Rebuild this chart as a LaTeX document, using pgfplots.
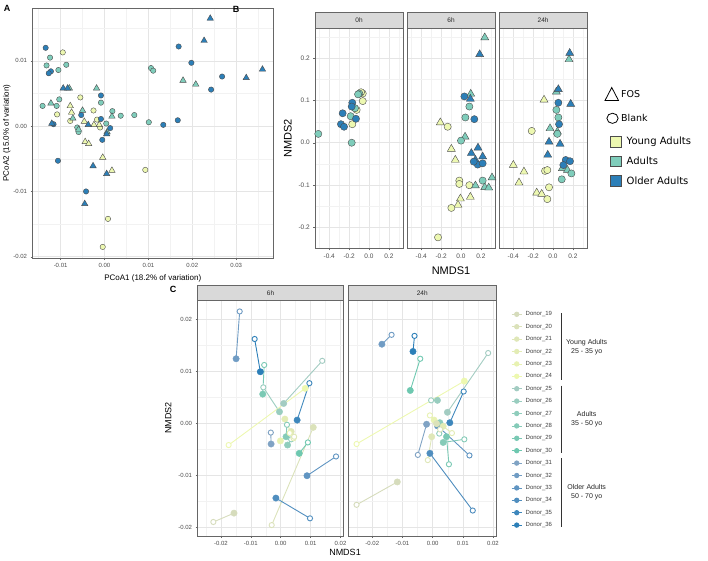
\documentclass[border=0pt]{standalone}
\usepackage{fontspec}
\setmainfont{Liberation Sans}
\newfontfamily\dejavu{DejaVu Sans}
\usepackage{pgfplots}
\pgfplotsset{compat=1.18}
\definecolor{young}{RGB}{237,248,177}
\definecolor{adult}{RGB}{127,205,187}
\definecolor{older}{RGB}{44,127,184}
\definecolor{d19}{RGB}{214,220,188}
\definecolor{d20}{RGB}{219,226,186}
\definecolor{d21}{RGB}{223,231,184}
\definecolor{d22}{RGB}{227,236,181}
\definecolor{d23}{RGB}{232,242,178}
\definecolor{d24}{RGB}{237,248,176}
\definecolor{d25}{RGB}{163,204,194}
\definecolor{d26}{RGB}{153,205,191}
\definecolor{d27}{RGB}{143,205,188}
\definecolor{d28}{RGB}{133,203,184}
\definecolor{d29}{RGB}{122,201,180}
\definecolor{d30}{RGB}{110,200,176}
\definecolor{d31}{RGB}{128,163,196}
\definecolor{d32}{RGB}{112,156,196}
\definecolor{d33}{RGB}{96,149,194}
\definecolor{d34}{RGB}{80,142,191}
\definecolor{d35}{RGB}{62,135,188}
\definecolor{d36}{RGB}{44,127,184}
\pgfplotsset{
  colormap={donors}{rgb255=(214,220,188) rgb255=(219,226,186) rgb255=(223,231,184) rgb255=(227,236,181) rgb255=(232,242,178) rgb255=(237,248,176) rgb255=(163,204,194) rgb255=(153,205,191) rgb255=(143,205,188) rgb255=(133,203,184) rgb255=(122,201,180) rgb255=(110,200,176) rgb255=(128,163,196) rgb255=(112,156,196) rgb255=(96,149,194) rgb255=(80,142,191) rgb255=(62,135,188) rgb255=(44,127,184)},
  gg/.style={
    scale only axis, anchor=north west, scaled ticks=false,
    axis line style={black!60, line width=0.5pt},
    tick pos=left, tick align=outside,
    major tick length=2pt, minor tick length=0pt,
    tick style={black!60, line width=0.4pt},
    xmajorgrids, ymajorgrids, xminorgrids, yminorgrids,
    major grid style={black!10, line width=0.5pt},
    minor grid style={black!5, line width=0.3pt},
    ticklabel style={font=\fontsize{6}{7}\selectfont, text=black!70},
    label style={font=\fontsize{8}{9}\selectfont, text=black},
  },
  circY/.style={only marks, mark=*, mark size=2.7pt, fill=young, draw=black!70, line width=0.4pt},
  circA/.style={only marks, mark=*, mark size=2.7pt, fill=adult, draw=black!70, line width=0.4pt},
  circO/.style={only marks, mark=*, mark size=2.7pt, fill=older, draw=black!70, line width=0.4pt},
  triY/.style={only marks, mark=triangle*, mark size=3.7pt, fill=young, draw=black!70, line width=0.4pt},
  triA/.style={only marks, mark=triangle*, mark size=3.7pt, fill=adult, draw=black!70, line width=0.4pt},
  triO/.style={only marks, mark=triangle*, mark size=3.7pt, fill=older, draw=black!70, line width=0.4pt},
  bsize/.style={mark size=3.6pt},
  btri/.style={mark size=4.6pt},
  bfacet/.style={gg, width=87.5pt, height=220pt,
    xmin=-0.54, xmax=0.34, ymin=-0.251, ymax=0.272,
    xtick={-0.4,-0.2,0,0.2}, xticklabels={-0.4,-0.2,0.0,0.2},
    ytick={-0.2,-0.1,0,0.1,0.2}, yticklabels={-0.2,-0.1,0.0,0.1,0.2},
    minor xtick={-0.5,-0.3,-0.1,0.1,0.3}, minor ytick={-0.25,-0.15,-0.05,0.05,0.15,0.25},
    ticklabel style={font=\fontsize{6.5}{7}\selectfont},
    label style={font=\fontsize{11}{12}\selectfont}},
  cfacet/.style={gg, width=147pt, height=236pt,
    xmin=-0.0278, xmax=0.0210, ymin=-0.0217, ymax=0.0237,
    xtick={-0.02,-0.01,0,0.01,0.02}, xticklabels={-0.02,-0.01,0.00,0.01,0.02},
    ytick={-0.02,-0.01,0,0.01,0.02}, yticklabels={-0.02,-0.01,0.00,0.01,0.02},
    minor xtick={-0.025,-0.015,-0.005,0.005,0.015}, minor ytick={-0.015,-0.005,0.005,0.015},
    colormap name=donors, point meta min=19, point meta max=36,
    label style={font=\fontsize{9}{10}\selectfont}},
  filledpt/.style={scatter, only marks, mark=*, mark size=3.2pt, point meta=explicit,
    scatter/use mapped color={draw=mapped color, fill=mapped color}},
  openpt/.style={scatter, only marks, mark=*, mark size=2.6pt, point meta=explicit,
    scatter/use mapped color={draw=mapped color, fill=white}, mark options={line width=0.9pt}},
  seg/.style={line width=0.9pt, no marks},
}
\begin{document}
\begin{tikzpicture}
\useasboundingbox (0pt,0pt) rectangle (708pt,-560pt);

% ================= Panel A =================
\node[font=\bfseries\fontsize{9}{10}\selectfont, anchor=center] at (7pt,-8pt) {A};
\begin{axis}[gg, at={(32.5pt,-8pt)}, width=240.5pt, height=250pt,
  xmin=-0.0164, xmax=0.0384, ymin=-0.0202, ymax=0.0181,
  xtick={-0.01,0,0.01,0.02,0.03}, xticklabels={-0.01,0.00,0.01,0.02,0.03},
  ytick={-0.02,-0.01,0,0.01}, yticklabels={-0.02,-0.01,0.00,0.01},
  minor xtick={-0.015,-0.005,0.005,0.015,0.025,0.035}, minor ytick={-0.015,-0.005,0.005,0.015},
  xlabel={PCoA1 (18.2\% of variation)}, ylabel={PCoA2 (15.0\% of variation)},
  ylabel style={yshift=-4pt}]
\addplot[circY] coordinates {(-0.0095,0.0113) (-0.0108,0.0018) (-0.0055,0.0044) (-0.0025,0.0024) (-0.0078,0.0008) (-0.0017,0.0010) (-0.0010,-0.0002) (0.0093,-0.0067) (0.0008,-0.0142) (-0.0004,-0.0185)};
\addplot[triY] coordinates {(-0.0078,0.0031) (-0.0075,0.0021) (-0.0044,-0.0024) (-0.0036,-0.0027) (-0.0004,-0.0048) (0.0017,-0.0068) (-0.0012,0.0002) (-0.0046,0.0007) (-0.0024,0.0002)};
\addplot[circA] coordinates {(-0.0124,0.0105) (-0.0132,0.0093) (-0.0105,0.0086) (-0.0087,0.0094) (-0.0141,0.0031) (-0.0103,0.0041) (-0.0109,0.0031) (-0.0062,-0.0002) (-0.0059,-0.0009) (-0.0008,0.0036) (0.0018,0.0023) (0.0037,0.0016) (0.0068,0.0017) (0.0101,0.0006) (0.0106,0.0089) (0.0111,0.0085) (0.0004,0.0004)};
\addplot[triA] coordinates {(-0.0122,0.0035) (-0.0080,0.0058) (-0.0072,0.0012) (-0.0050,0.0024) (-0.0059,-0.0005) (-0.0018,0.0058) (0.0017,0.0015) (0.0006,-0.0009) (0.0179,0.0070) (0.0208,0.0064)};
\addplot[circO] coordinates {(-0.0134,0.0120) (-0.0122,0.0084) (-0.0127,0.0081) (-0.0116,0.0003) (-0.0106,-0.0053) (-0.0053,0.0017) (-0.0008,0.0047) (-0.0008,0.0011) (-0.0005,-0.0021) (0.0013,-0.0003) (-0.0042,-0.0100) (0.0134,0.0002) (0.0167,0.0009) (0.0169,0.0122) (0.0198,0.0097) (0.0243,0.0056) (0.0268,0.0076)};
\addplot[triO] coordinates {(-0.0094,0.0058) (-0.0084,0.0058) (-0.0120,0.0004) (-0.0037,0.0002) (0.0005,-0.0012) (-0.0026,-0.0061) (0.0005,-0.0073) (-0.0045,-0.0119) (0.0227,0.0131) (0.0241,0.0165) (0.0323,0.0074) (0.0360,0.0087)};
\end{axis}

% ================= Panel B =================
\node[font=\bfseries\fontsize{9}{10}\selectfont, anchor=center] at (236pt,-9pt) {B};
\begin{axis}[bfacet, at={(315.3pt,-28.3pt)}, ylabel={NMDS2}]
\addplot[circY, bsize] coordinates {(-0.063,0.117) (-0.063,0.099) (-0.168,0.044) (-0.124,0.078) (-0.080,0.120)};
\addplot[circA, bsize] coordinates {(-0.510,0.021) (-0.174,0.000) (-0.184,0.063) (-0.141,0.082) (-0.097,0.117) (-0.110,0.115)};
\addplot[circO, bsize] coordinates {(-0.265,0.070) (-0.282,0.044) (-0.251,0.038) (-0.168,0.095) (-0.131,0.057) (-0.174,0.086)};
\end{axis}
\begin{axis}[bfacet, at={(407.3pt,-28.3pt)}, yticklabels={}, ytick style={draw=none}, xlabel={NMDS1}, xlabel style={yshift=-2pt}]
\addplot[triY, btri] coordinates {(-0.208,0.048) (-0.097,-0.015) (-0.057,-0.041) (0.094,-0.129) (-0.006,-0.133) (-0.030,-0.148)};
\addplot[circY, bsize] coordinates {(-0.134,0.038) (-0.017,-0.090) (-0.017,-0.098) (0.084,-0.101) (-0.097,-0.155) (-0.231,-0.225)};
\addplot[triA, btri] coordinates {(0.239,0.250) (0.098,0.116) (0.041,0.014) (0.145,-0.102) (0.239,-0.106) (0.279,-0.107) (0.312,-0.083)};
\addplot[circA, bsize] coordinates {(0.084,0.086) (0.044,0.060) (0.000,0.005) (0.218,-0.090)};
\addplot[triO, btri] coordinates {(0.188,0.210) (0.094,0.104) (0.171,-0.012) (0.104,-0.025) (0.145,-0.041) (0.218,-0.033)};
\addplot[circO, bsize] coordinates {(0.034,0.110) (0.134,0.056) (0.168,-0.052) (0.218,-0.049) (0.128,-0.045)};
\end{axis}
\begin{axis}[bfacet, at={(499.3pt,-28.3pt)}, yticklabels={}, ytick style={draw=none}]
\addplot[triY, btri] coordinates {(-0.090,0.102) (-0.399,-0.053) (-0.292,-0.069) (-0.342,-0.095) (-0.164,-0.119) (-0.114,-0.122)};
\addplot[circY, bsize] coordinates {(-0.214,0.028) (-0.080,-0.067) (-0.057,-0.065) (-0.040,-0.106) (-0.057,-0.134)};
\addplot[triA, btri] coordinates {(0.161,0.198) (0.034,0.121) (-0.030,0.034) (0.044,0.026) (0.094,-0.061) (0.145,-0.065)};
\addplot[circA, bsize] coordinates {(0.034,0.078) (0.054,0.060) (0.185,-0.073) (0.088,-0.087) (0.044,0.021)};
\addplot[triO, btri] coordinates {(0.168,0.213) (0.054,0.127) (0.178,0.092) (-0.040,0.002) (0.071,-0.003) (-0.053,-0.029)};
\addplot[circO, bsize] coordinates {(0.054,0.095) (0.061,0.044) (0.128,-0.041) (0.171,-0.044) (0.104,-0.053)};
\end{axis}
% strips B
\foreach \xa/\lab in {315.3/0h, 407.3/6h, 499.3/24h}{
  \draw[fill=black!15, draw=black!60, line width=0.5pt] (\xa pt,-12.7pt) rectangle ({\xa pt+87.5pt},-28.3pt);
  \node[font=\fontsize{6.5}{7}\selectfont, text=black!85] at ({\xa pt+43.75pt},-20.5pt) {\lab};
}
% legend B
\draw[black, line width=0.8pt] (605pt,-100.5pt) -- (618.5pt,-100.5pt) -- (611.75pt,-87.5pt) -- cycle;
\node[anchor=west, font=\dejavu\fontsize{9.5}{10}\selectfont, inner sep=0pt] at (621pt,-94.5pt) {FOS};
\draw[black, line width=0.8pt] (612.5pt,-118.3pt) ellipse (5.6pt and 5.1pt);
\node[anchor=west, font=\dejavu\fontsize{9.5}{10}\selectfont, inner sep=0pt] at (621pt,-118.3pt) {Blank};
\draw[fill=young, draw=black!70, line width=0.5pt] (610pt,-136.5pt) rectangle (621.5pt,-147pt);
\draw[fill=adult, draw=black!70, line width=0.5pt] (610pt,-156pt) rectangle (621.5pt,-166.5pt);
\draw[fill=older, draw=black!70, line width=0.5pt] (610pt,-175.5pt) rectangle (621.5pt,-186pt);
\node[anchor=west, font=\dejavu\fontsize{10}{11}\selectfont, inner sep=0pt] at (626.5pt,-141.7pt) {Young Adults};
\node[anchor=west, font=\dejavu\fontsize{10}{11}\selectfont, inner sep=0pt] at (626.5pt,-161.2pt) {Adults};
\node[anchor=west, font=\dejavu\fontsize{10}{11}\selectfont, inner sep=0pt] at (626.5pt,-180.7pt) {Older Adults};

% ================= Panel C =================
\node[font=\bfseries\fontsize{9}{10}\selectfont, anchor=center] at (173pt,-289pt) {C};
\begin{axis}[cfacet, at={(197.5pt,-300pt)}, width=146pt, ylabel={NMDS2}]
\addplot[seg, color=d32] coordinates {(-0.0149,0.0124) (-0.0137,0.0215)};
\addplot[seg, color=d36] coordinates {(-0.0068,0.0099) (-0.0087,0.0162)};
\addplot[seg, color=d29] coordinates {(-0.0060,0.0056) (-0.0055,0.0112)};
\addplot[seg, color=d25] coordinates {(0.0010,0.0038) (0.0139,0.0120)};
\addplot[seg, color=d26] coordinates {(-0.0004,0.0022) (-0.0058,0.0069)};
\addplot[seg, color=d35] coordinates {(0.0055,0.0006) (0.0096,0.0077)};
\addplot[seg, color=d24] coordinates {(0.0082,0.0067) (-0.0174,-0.0042)};
\addplot[seg, color=d19] coordinates {(-0.0156,-0.0173) (-0.0225,-0.0190)};
\addplot[seg, color=d20] coordinates {(0.0109,-0.0008) (-0.0030,-0.0196)};
\addplot[seg, color=d34] coordinates {(-0.0016,-0.0144) (0.0098,-0.0183)};
\addplot[seg, color=d33] coordinates {(0.0088,-0.0101) (0.0185,-0.0064)};
\addplot[seg, color=d30] coordinates {(0.0062,-0.0058) (0.0091,-0.0037)};
\addplot[seg, color=d31] coordinates {(-0.0032,-0.0040) (-0.0033,-0.0018)};
\addplot[seg, color=d28] coordinates {(0.0018,-0.0026) (0.0021,-0.0003)};
\addplot[seg, color=d27] coordinates {(0.0023,-0.0042) (0.0035,-0.0031)};
\addplot[seg, color=d22] coordinates {(0.0014,0.0008) (0.0043,-0.0029)};
\addplot[seg, color=d23] coordinates {(-0.0001,-0.0034) (0.0030,-0.0019)};
\addplot[seg, color=d21] coordinates {(0.0035,-0.0016) (0.0045,-0.0026)};
\addplot[filledpt] table[meta=d] {
x y d
-0.0149 0.0124 32
-0.0068 0.0099 36
-0.0060 0.0056 29
0.0010 0.0038 25
-0.0004 0.0022 26
0.0055 0.0006 35
0.0082 0.0067 24
-0.0156 -0.0173 19
0.0109 -0.0008 20
-0.0016 -0.0144 34
0.0088 -0.0101 33
0.0062 -0.0058 30
-0.0032 -0.0040 31
0.0018 -0.0026 28
0.0023 -0.0042 27
0.0014 0.0008 22
-0.0001 -0.0034 23
0.0035 -0.0016 21
};
\addplot[openpt] table[meta=d] {
x y d
-0.0137 0.0215 32
-0.0087 0.0162 36
-0.0055 0.0112 29
0.0139 0.0120 25
-0.0058 0.0069 26
0.0096 0.0077 35
-0.0174 -0.0042 24
-0.0225 -0.0190 19
-0.0030 -0.0196 20
0.0098 -0.0183 34
0.0185 -0.0064 33
0.0091 -0.0037 30
-0.0033 -0.0018 31
0.0021 -0.0003 28
0.0035 -0.0031 27
0.0043 -0.0029 22
0.0030 -0.0019 23
0.0045 -0.0026 21
};
\end{axis}
\begin{axis}[cfacet, at={(348.7pt,-300pt)}, width=147.3pt, yticklabels={}, ytick style={draw=none}]
\addplot[seg, color=d32] coordinates {(-0.0168,0.0152) (-0.0136,0.0170)};
\addplot[seg, color=d36] coordinates {(-0.0065,0.0138) (-0.0060,0.0168)};
\addplot[seg, color=d30] coordinates {(-0.0074,0.0063) (-0.0041,0.0124)};
\addplot[seg, color=d24] coordinates {(0.0105,0.0081) (-0.0252,-0.0040)};
\addplot[seg, color=d25] coordinates {(0.0049,0.0021) (0.0184,0.0135)};
\addplot[seg, color=d35] coordinates {(0.0057,0.0001) (0.0103,0.0061)};
\addplot[seg, color=d26] coordinates {(0.0016,0.0044) (-0.0005,0.0044)};
\addplot[seg, color=d19] coordinates {(-0.0117,-0.0113) (-0.0252,-0.0157)};
\addplot[seg, color=d34] coordinates {(-0.0009,-0.0058) (0.0133,-0.0168)};
\addplot[seg, color=d31] coordinates {(-0.0020,-0.0002) (-0.0049,-0.0061)};
\addplot[seg, color=d33] coordinates {(0.0016,-0.0005) (0.0122,-0.0062)};
\addplot[seg, color=d29] coordinates {(0.0046,-0.0026) (0.0054,-0.0079)};
\addplot[seg, color=d28] coordinates {(0.0035,-0.0037) (0.0105,-0.0031)};
\addplot[seg, color=d27] coordinates {(0.0024,0.0001) (0.0022,-0.0020)};
\addplot[seg, color=d21] coordinates {(-0.0003,-0.0026) (-0.0016,-0.0071)};
\addplot[seg, color=d23] coordinates {(0.0005,0.0006) (-0.0009,0.0015)};
\addplot[seg, color=d22] coordinates {(0.0035,-0.0006) (0.0064,-0.0019)};
\addplot[seg, color=d20] coordinates {(0.0013,-0.0001) (0.0025,-0.0012)};
\addplot[filledpt] table[meta=d] {
x y d
-0.0168 0.0152 32
-0.0065 0.0138 36
-0.0074 0.0063 30
0.0105 0.0081 24
0.0049 0.0021 25
0.0057 0.0001 35
0.0016 0.0044 26
-0.0117 -0.0113 19
-0.0009 -0.0058 34
-0.0020 -0.0002 31
0.0016 -0.0005 33
0.0046 -0.0026 29
0.0035 -0.0037 28
0.0024 0.0001 27
-0.0003 -0.0026 21
0.0005 0.0006 23
0.0035 -0.0006 22
0.0013 -0.0001 20
};
\addplot[openpt] table[meta=d] {
x y d
-0.0136 0.0170 32
-0.0060 0.0168 36
-0.0041 0.0124 30
-0.0252 -0.0040 24
0.0184 0.0135 25
0.0103 0.0061 35
-0.0005 0.0044 26
-0.0252 -0.0157 19
0.0133 -0.0168 34
-0.0049 -0.0061 31
0.0122 -0.0062 33
0.0054 -0.0079 29
0.0105 -0.0031 28
0.0022 -0.0020 27
-0.0016 -0.0071 21
-0.0009 0.0015 23
0.0064 -0.0019 22
0.0025 -0.0012 20
};
\end{axis}
\node[font=\fontsize{9}{10}\selectfont] at (345pt,-552pt) {NMDS1};
% strips C
\draw[fill=black!15, draw=black!60, line width=0.5pt] (197.5pt,-285.7pt) rectangle (343.5pt,-300pt);
\node[font=\fontsize{6.5}{7}\selectfont, text=black!85] at (270.5pt,-292.8pt) {6h};
\draw[fill=black!15, draw=black!60, line width=0.5pt] (348.7pt,-285.7pt) rectangle (496pt,-300pt);
\node[font=\fontsize{6.5}{7}\selectfont, text=black!85] at (422.3pt,-292.8pt) {24h};
% legend C
\foreach \n [count=\i from 0] in {19,...,36}{
  \pgfmathsetmacro\yy{-(314.3+12.4*\i)}
  \draw[color=d\n, line width=0.8pt] (511.5pt,\yy pt) -- (522pt,\yy pt);
  \fill[color=d\n] (516.7pt,\yy pt) circle (2.7pt);
  \node[anchor=west, font=\fontsize{6}{7}\selectfont, text=black!75, inner sep=0pt] at (525.5pt,\yy pt) {Donor\_\n};
}
\draw[black!80, line width=0.6pt] (561.7pt,-313.3pt) -- (561.7pt,-380pt);
\draw[black!80, line width=0.6pt] (561.7pt,-385.7pt) -- (561.7pt,-453.3pt);
\draw[black!80, line width=0.6pt] (561.7pt,-458.3pt) -- (561.7pt,-526.7pt);
\node[align=center, font=\fontsize{7}{9}\selectfont, text=black!85] at (586.7pt,-347pt) {Young Adults\\25 - 35 yo};
\node[align=center, font=\fontsize{7}{9}\selectfont, text=black!85] at (586.7pt,-419.2pt) {Adults\\35 - 50 yo};
\node[align=center, font=\fontsize{7}{9}\selectfont, text=black!85] at (586.7pt,-492.2pt) {Older Adults\\50 - 70 yo};
\end{tikzpicture}
\end{document}
